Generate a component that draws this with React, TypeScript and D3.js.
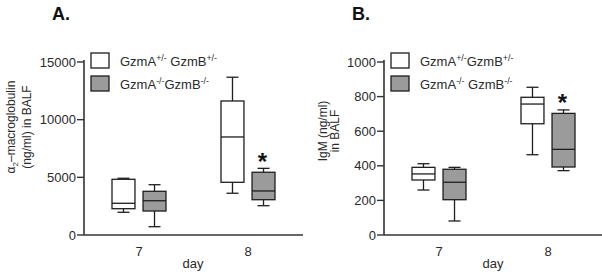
import React from "react";
import * as d3 from "d3";

// ---- data ----
const days = ["7", "8"];
const groups = ["het", "ko"];
// box stats per day: [min, q1, median, q3, max]
const alphaHet = [
  [1970, 2280, 2750, 4830, 4920],
  [3620, 4570, 8500, 11620, 13680],
];
const alphaKo = [
  [720, 2080, 2970, 3790, 4360],
  [2540, 3060, 3820, 5440, 5780],
];
const igmHet = [
  [260, 318, 353, 391, 412],
  [464, 643, 757, 796, 854],
];
const igmKo = [
  [81, 204, 305, 380, 391],
  [372, 393, 495, 703, 723],
];
const alphaTicks = [0, 5000, 10000, 15000];
const igmTicks = [0, 200, 400, 600, 800, 1000];
const starDayA = "8";
const starDayB = "8";

const FONT = "'Liberation Sans', Arial, sans-serif";
const GRAY = "#9b9b9b";
const INK = "#1e1e1e";

type Label = { base: string; sup: string }[];

const Sup = ({ parts, x, y, size }: { parts: Label; x: number; y: number; size: number }) => (
  <text x={x} y={y} fontFamily={FONT} fontSize={size} fill="#2a2a2a">
    {parts.map((p, i) => (
      <React.Fragment key={i}>
        <tspan dy={i === 0 ? 0 : 5}>{p.base}</tspan>
        <tspan fontSize={size * 0.68} dy={-5}>{p.sup}</tspan>
      </React.Fragment>
    ))}
  </text>
);

type PanelProps = {
  x0: number;
  title: string;
  het: number[][];
  ko: number[][];
  max: number;
  ticks: number[];
  yTitle: React.ReactNode;
  legend: [Label, Label];
  starDay: string;
};

function Panel({ x0, title, het, ko, max, ticks, yTitle, legend, starDay }: PanelProps) {
  const y = d3.scaleLinear().domain([0, max]).range([235, 62]);
  const xDay = d3.scalePoint<string>().domain(days).range([x0 + 55, x0 + 164]);
  const xGroup = d3.scaleBand<string>().domain(groups).range([-27, 27]).paddingInner(0.26);
  const bw = xGroup.bandwidth();
  const series = [
    { key: "het", data: het, fill: "#ffffff" },
    { key: "ko", data: ko, fill: GRAY },
  ];
  const starX = (xDay(starDay) as number) + (xGroup("ko") as number) + bw / 2;
  const starIdx = days.indexOf(starDay);
  const starY = y(ko[starIdx][4]) - 12;
  return (
    <g>
      <text x={x0 - 32} y={19.5} fontFamily={FONT} fontWeight="bold" fontSize={18} fill="#111">
        {title}
      </text>
      {yTitle}
      {/* axes */}
      <line x1={x0} x2={x0} y1={60} y2={235} stroke="#333" strokeWidth={1.6} />
      <line x1={x0} x2={x0 + 219} y1={235} y2={235} stroke="#333" strokeWidth={1.6} />
      {ticks.map((t) => (
        <g key={t}>
          <line x1={x0 - 7} x2={x0} y1={y(t)} y2={y(t)} stroke="#333" strokeWidth={1.4} />
          <text x={x0 - 8} y={y(t) + 4.5} textAnchor="end" fontFamily={FONT} fontSize={13} fill="#2a2a2a">
            {t}
          </text>
        </g>
      ))}
      {days.map((d) => (
        <text key={d} x={xDay(d)} y={256} textAnchor="middle" fontFamily={FONT} fontSize={13} fill="#2a2a2a">
          {d}
        </text>
      ))}
      <text x={x0 + 109} y={268} textAnchor="middle" fontFamily={FONT} fontSize={13} fill="#2a2a2a">
        day
      </text>
      {/* boxes */}
      {series.map((s) =>
        days.map((d, i) => {
          const [mn, q1, md, q3, mx] = s.data[i];
          const left = (xDay(d) as number) + (xGroup(s.key) as number);
          const cx = left + bw / 2;
          return (
            <g key={s.key + d} stroke={INK} strokeWidth={1.3} fill="none">
              <line x1={cx} x2={cx} y1={y(mx)} y2={y(q3)} />
              <line x1={cx} x2={cx} y1={y(q1)} y2={y(mn)} />
              <line x1={cx - 6} x2={cx + 6} y1={y(mx)} y2={y(mx)} />
              <line x1={cx - 6} x2={cx + 6} y1={y(mn)} y2={y(mn)} />
              <rect x={left} y={y(q3)} width={bw} height={y(q1) - y(q3)} fill={s.fill} />
              <line x1={left} x2={left + bw} y1={y(md)} y2={y(md)} />
            </g>
          );
        })
      )}
      <text x={starX - 1} y={starY + 13.5} textAnchor="middle" fontFamily={FONT} fontWeight="bold" fontSize={24} fill="#111">
        *
      </text>
      {/* legend */}
      <rect x={x0 + 7} y={53} width={18} height={15} fill="#fff" stroke={INK} strokeWidth={1.3} />
      <rect x={x0 + 7} y={76} width={18} height={15} fill={GRAY} stroke={INK} strokeWidth={1.3} />
      <Sup parts={legend[0]} x={x0 + 36} y={66} size={13} />
      <Sup parts={legend[1]} x={x0 + 36} y={89} size={13} />
    </g>
  );
}

export default function App() {
  const yTitleA = (
    <text transform="translate(0,127) rotate(-90)" textAnchor="middle" fontFamily={FONT} fontSize={12} fill="#2a2a2a">
      <tspan x={0} y={15}>
        α<tspan fontSize={8} dy={3}>2</tspan>
        <tspan dy={-3}>–macroglobulin</tspan>
      </tspan>
      <tspan x={0} y={31}>(ng/ml) in BALF</tspan>
    </text>
  );
  const yTitleB = (
    <text transform="translate(300,131) rotate(-90)" textAnchor="middle" fontFamily={FONT} fontSize={12} fill="#2a2a2a">
      <tspan x={0} y={27}>IgM (ng/ml)</tspan>
      <tspan x={0} y={39}>in BALF</tspan>
    </text>
  );
  return (
    <svg
      width={602}
      height={274}
      style={{ position: "absolute", left: 0, top: 0, background: "#fff" }}
    >
      <Panel
        x0={84}
        title="A."
        het={alphaHet}
        ko={alphaKo}
        max={15000}
        ticks={alphaTicks}
        yTitle={yTitleA}
        legend={[
          [
            { base: "GzmA", sup: "+/-" },
            { base: " GzmB", sup: "+/-" },
          ],
          [
            { base: "GzmA", sup: "-/-" },
            { base: "GzmB", sup: "-/-" },
          ],
        ]}
        starDay={starDayA}
      />
      <Panel
        x0={384}
        title="B."
        het={igmHet}
        ko={igmKo}
        max={1000}
        ticks={igmTicks}
        yTitle={yTitleB}
        legend={[
          [
            { base: "GzmA", sup: "+/-" },
            { base: "GzmB", sup: "+/-" },
          ],
          [
            { base: "GzmA", sup: "-/-" },
            { base: " GzmB", sup: "-/-" },
          ],
        ]}
        starDay={starDayB}
      />
    </svg>
  );
}
